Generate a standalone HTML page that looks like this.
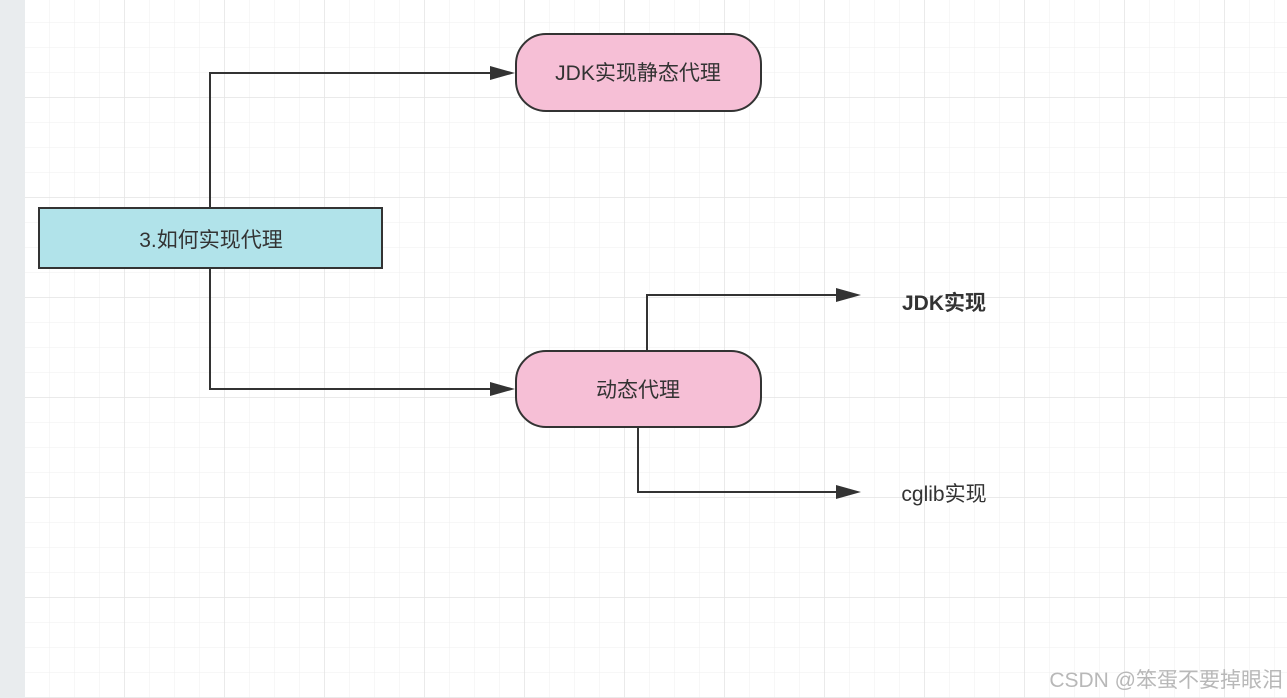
<!DOCTYPE html>
<html><head><meta charset="utf-8"><style>
html,body{margin:0;padding:0;width:1287px;height:698px;overflow:hidden;background:#fff}
</style></head><body>
<svg width="1287" height="698" xmlns="http://www.w3.org/2000/svg" style="font-family:'Liberation Sans','Noto Sans CJK SC',sans-serif">
<defs>
<pattern id="g" x="0" y="-2" width="25" height="25" patternUnits="userSpaceOnUse">
<path d="M25 0V25M0 25H25" stroke="#efefef" stroke-width="1" fill="none"/>
</pattern>
<pattern id="G" x="25" y="-2" width="100" height="100" patternUnits="userSpaceOnUse">
<path d="M100 0V100M0 100H100" stroke="#e4e4e4" stroke-width="1.5" fill="none"/>
</pattern>
</defs>
<rect width="1287" height="698" fill="url(#g)"/>
<rect width="1287" height="698" fill="url(#G)"/>
<rect x="0" y="0" width="25" height="698" fill="#e9ecee"/>
<g stroke="#333" stroke-width="2" fill="none">
<path d="M210 208V73H500"/>
<path d="M210 268V389H500"/>
<path d="M647 351V295H845"/>
<path d="M638 427V492H845"/>
</g>
<path d="M836 288L861 295L836 302Z" fill="#333"/>
<path d="M836 485L861 492L836 499Z" fill="#333"/>
<path d="M490 66L515 73L490 80Z" fill="#333"/>
<path d="M490 382L515 389L490 396Z" fill="#333"/>
<rect x="39" y="208" width="343" height="60" fill="#b1e3ea" stroke="#333" stroke-width="2"/>
<rect x="516" y="34" width="245" height="77" rx="30" fill="#f6bfd6" stroke="#333" stroke-width="2"/>
<rect x="516" y="351" width="245" height="76" rx="30" fill="#f6bfd6" stroke="#333" stroke-width="2"/>
<g fill="#333" font-size="21" text-anchor="middle">
<text x="211" y="247">3.如何实现代理</text>
<text x="638" y="80">JDK实现静态代理</text>
<text x="638" y="397">动态代理</text>
<text x="944" y="310" font-weight="bold">JDK实现</text>
<text x="944" y="501">cglib实现</text>
</g>
<text x="1283" y="687" text-anchor="end" font-size="21" fill="#b8b8b8">CSDN @笨蛋不要掉眼泪</text>
</svg>
</body></html>
